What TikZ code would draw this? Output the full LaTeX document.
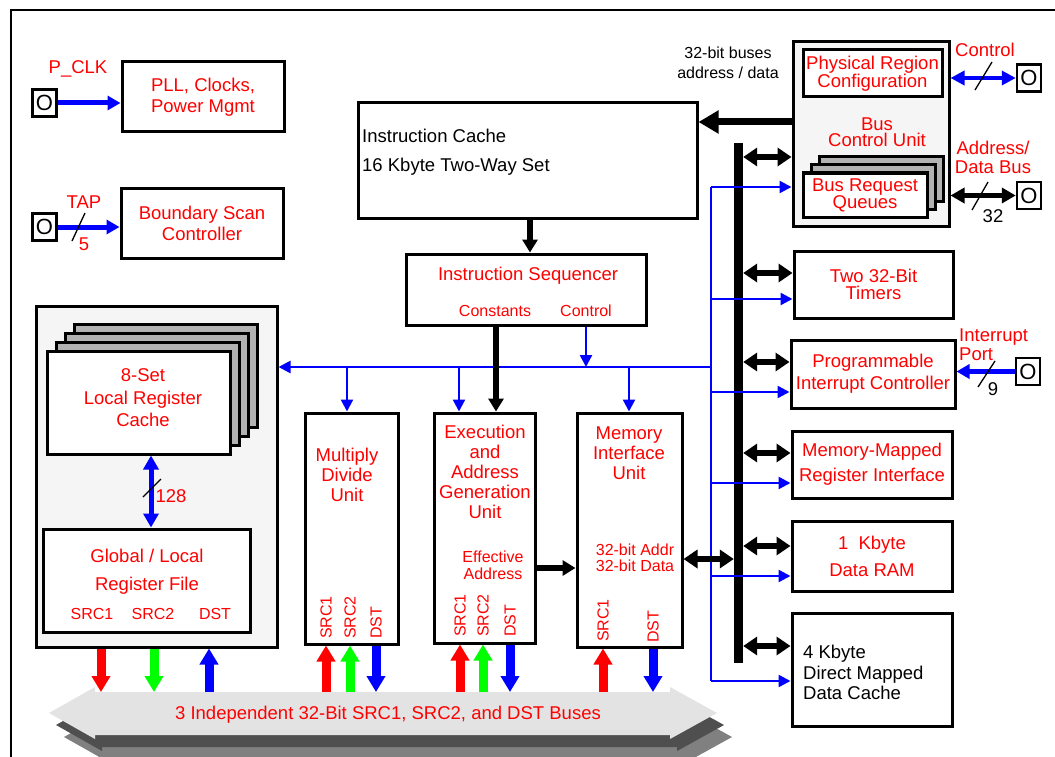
\documentclass[tikz,border=0pt]{standalone}
\usepackage{fontspec}
\setmainfont{Liberation Sans}
\usetikzlibrary{arrows.meta}

\begin{document}
\begin{tikzpicture}[x=1pt,y=-1pt,
box/.style={draw,line width=3pt,fill=white,inner sep=0pt},
rtxt/.style={text=red,align=center,inner sep=0pt,font=\fontsize{18.5}{21}\selectfont},
ktxt/.style={rtxt,text=black},
stxt/.style={text=red,align=center,inner sep=0pt,font=\fontsize{16}{17}\selectfont},
vtxt/.style={stxt,rotate=90,anchor=west},
ls/.style={font=\fontsize{18.5}{#1}\selectfont},
pin/.style={draw,line width=2.5pt,minimum width=24pt,minimum height=27pt,inner sep=0pt,font=\fontsize{22}{22}\selectfont},
slash/.style={line width=1.3pt},
bl/.style={blue,line width=2.5pt},
barr/.style={bl,-{Triangle[width=12pt,length=12pt]}},
pa/.style={blue,line width=5pt,-{Triangle[width=14pt,length=13pt]}},
bdbl/.style={blue,line width=5pt,{Triangle[width=15pt,length=14pt]}-{Triangle[width=15pt,length=14pt]}},
cdbl/.style={blue,line width=4pt,{Triangle[width=14pt,length=14pt]}-{Triangle[width=14pt,length=14pt]}},
adbl/.style={line width=5pt,{Triangle[width=15pt,length=14pt]}-{Triangle[width=15pt,length=14pt]}},
dbl/.style={line width=6pt,{Triangle[width=18pt,length=14pt]}-{Triangle[width=18pt,length=14pt]}},
tk/.style={line width=7pt,-{Triangle[width=22pt,length=20pt]}},
tkb/.style={line width=6pt,-{Triangle[width=15pt,length=13pt]}},
fat/.style={line width=9pt,-{Triangle[width=18pt,length=16pt]}},
]
\useasboundingbox (0,0) rectangle (1055,757);
\draw[line width=2pt] (11,757) -- (11,10) -- (1055,10);

\node[box,rtxt,minimum width=162pt,minimum height=70pt] (pll) at (203,97) {PLL, Clocks,\\Power Mgmt};
\node[box,rtxt,minimum width=162pt,minimum height=70pt] (bsc) at (202,223) {Boundary Scan\\Controller};
\node[pin] (pclk) at (44.5,103) {O};
\node[pin] (tap) at (44.5,227) {O};
\node[rtxt] (pclkl) at (78,69) {P\_CLK};
\node[rtxt] (tapl) at (84,202) {TAP};
\node[rtxt] (tapn) at (84,244) {5};
\draw[pa] (pclk.east) -- (pll.west |- pclk.east);
\draw[pa] (tap.east) -- (bsc.west |- tap.east);
\draw[slash] (72,241) -- (85,213);

\node[box,minimum width=339pt,minimum height=115pt] (ic) at (527.5,160.5) {};
\node[ktxt,anchor=west,align=left] (ict) at (362,152) {Instruction Cache\\[8pt]16 Kbyte Two-Way Set};
\node[box,minimum width=240pt,minimum height=71pt] (seq) at (526,289.5) {};
\node[rtxt] (seqt) at (528,276) {Instruction Sequencer};
\node[stxt] (seqa) at (495,311) {Constants};
\node[stxt] (seqb) at (586,311) {Control};

\node[box,fill=black!4,minimum width=241pt,minimum height=341pt] (rg) at (156.5,476.5) {};
\foreach \i in {3,2,1}
  \node[box,fill=black!30,minimum width=183pt,minimum height=103pt] (lrc\i) at ({138.5+9*\i},{402.5-8.7*\i}) {};
\node[box,minimum width=183pt,minimum height=103pt] (lrc) at (138.5,402.5) {};
\node[rtxt,ls=22.5] (lrct) at (143,398) {8-Set\\Local Register\\Cache};
\node[box,minimum width=207pt,minimum height=103pt] (grf) at (146.5,580.5) {};
\node[rtxt] (grft) at (147,572) {Global / Local\\[7pt]Register File};
\node[stxt] (g1) at (92,614) {SRC1};
\node[stxt] (g2) at (153,614) {SRC2};
\node[stxt] (g3) at (215,614) {DST};
\draw[bdbl] (lrc.south -| 151,0) -- (grf.north -| 151,0);
\draw[slash] (143,497) -- (161,479);
\node[rtxt] (lrcn) at (171,496) {128};

\node[box,minimum width=93pt,minimum height=231pt] (mul) at (351.5,528.5) {};
\node[rtxt,ls=20] (mult) at (347,475) {Multiply\\Divide\\Unit};
\node[box,minimum width=101pt,minimum height=230pt] (eag) at (484.5,528) {};
\node[rtxt,ls=20] (eagt) at (485,471.5) {Execution\\and\\Address\\Generation\\Unit};
\node[stxt] (eagb) at (493,565.5) {Effective\\Address};
\node[box,minimum width=105pt,minimum height=234pt] (miu) at (629.5,530) {};
\node[rtxt,ls=20] (miut) at (629,453) {Memory\\Interface\\Unit};
\node[stxt,font=\fontsize{16}{16}\selectfont] (miub) at (635,558) {32-bit Addr\\32-bit Data};
\node[vtxt] (m1) at (326,639) {SRC1};
\node[vtxt] (m2) at (350,639) {SRC2};
\node[vtxt] (m3) at (376,639) {DST};
\node[vtxt] (e1) at (460,637) {SRC1};
\node[vtxt] (e2) at (483,637) {SRC2};
\node[vtxt] (e3) at (510,637) {DST};
\node[vtxt] (u1) at (603,642) {SRC1};
\node[vtxt] (u3) at (653,643) {DST};

\node[box,fill=black!4,minimum width=156pt,minimum height=184pt] (bcu) at (871,134) {};
\node[box,rtxt,ls=18,minimum width=139pt,minimum height=47pt] (prc) at (872.5,73.5) {Physical Region\\Configuration};
\node[rtxt,ls=16.5] (bcut) at (877,132) {Bus\\Control Unit};
\foreach \i in {2,1}
  \node[box,fill=black!30,minimum width=124pt,minimum height=44pt] (brq\i) at ({865+8*\i},{195-8*\i}) {};
\node[box,rtxt,ls=17,minimum width=124pt,minimum height=44pt] (brq) at (865,195) {Bus Request\\Queues};
\node[ktxt,font=\fontsize{16}{20}\selectfont] (busw) at (728,63) {32-bit buses\\address / data};

\node[pin] (cpin) at (1029,78) {O};
\node[rtxt] (cpinl) at (985,50) {Control};
\draw[cdbl] (bcu.east |- cpin.west) -- (cpin.west);
\draw[slash] (975,90) -- (992,62);
\node[pin] (apin) at (1029,195.5) {O};
\node[rtxt,ls=19] (apinl) at (993,157.5) {Address/\\Data Bus};
\draw[adbl] (bcu.east |- apin.west) -- (apin.west);
\draw[slash] (972,210) -- (988,182);
\node[ktxt] (apinn) at (993,216) {32};

\node[box,rtxt,ls=17,minimum width=159pt,minimum height=67pt] (tim) at (873.5,284.5) {Two 32-Bit\\Timers};
\node[box,rtxt,ls=22,minimum width=164pt,minimum height=68pt] (pic) at (873,374) {Programmable\\Interrupt Controller};
\node[box,rtxt,ls=25,minimum width=160pt,minimum height=67pt] (mmr) at (872,464.5) {Memory-Mapped\\Register Interface};
\node[box,rtxt,ls=27,minimum width=160pt,minimum height=70pt] (ram) at (872,556) {1\ \ Kbyte\\Data RAM};
\node[box,minimum width=160pt,minimum height=113pt] (dc) at (872,669.5) {};
\node[ktxt,ls=20.5,anchor=west,align=left] (dct) at (803,672.5) {4 Kbyte\\Direct Mapped\\Data Cache};

\node[pin] (ipin) at (1028,371.5) {O};
\node[rtxt,ls=19,anchor=west,align=left] (ipinl) at (959,344.5) {Interrupt\\Port};
\draw[pa] (ipin.west) -- (pic.east |- ipin.west);
\draw[slash] (978,387) -- (995,361);
\node[ktxt] (ipinn) at (993,389) {9};

\node[fill=black,minimum width=9pt,minimum height=520pt,inner sep=0pt] (vb) at (738.5,403) {};
\coordinate (bt) at (711,187);
\coordinate (bb) at (711,681);
\coordinate (bj) at (711,367);
\draw[bl] (bt) -- (bb);
\foreach \n/\y in {bcu/187,tim/299,pic/392,mmr/483,ram/576,dc/681}
  \draw[barr] (bt |- 0,\y) -- (\n.west |- 0,\y);
\foreach \n/\y in {bcu/157,tim/273,pic/362,mmr/453,ram/546,dc/646}
  \draw[dbl] (vb.east |- 0,\y) -- (\n.west |- 0,\y);

\draw[barr] (bj) -- (rg.east |- bj);
\foreach \x/\n in {347/mul,459/eag,629/miu}
  \draw[barr] (\x,0 |- bj) -- (\n.north -| \x,0);
\draw[barr] (seq.south -| 586,0) -- (586,0 |- bj);

\draw[tk] (bcu.west |- 0,122) -- (ic.east |- 0,122);
\draw[tkb] (ic.south -| 530,0) -- (seq.north -| 530,0);
\draw[tkb] (seq.south -| 496,0) -- (eag.north -| 496,0);
\draw[tkb] (eag.east |- 0,568) -- (miu.west |- 0,568);
\draw[dbl] (miu.east |- 0,559) -- (vb.west |- 0,559);

\foreach \dx/\dy/\c in {15/24/black!50,7/12/black!69,0/0/black!11}
  \fill[\c,shift={(\dx,\dy)}] (49,713) -- (95,687) -- (95,692) -- (670,692) -- (670,687) -- (717,713)
    -- (670,739) -- (670,735) -- (95,735) -- (95,739) -- cycle;
\coordinate (bus) at (383,692);
\node[rtxt] (busl) at (388,715) {3 Independent 32-Bit SRC1, SRC2, and DST Buses};

\draw[fat,red] (rg.south -| 101,0) -- (101,0 |- bus);
\draw[fat,green] (rg.south -| 154,0) -- (154,0 |- bus);
\draw[fat,blue] (209,0 |- bus) -- (rg.south -| 209,0);
\foreach \x/\c/\n in {326/red/mul,350/green/mul,460/red/eag,483/green/eag,603/red/miu}
  \draw[fat,\c] (\x,0 |- bus) -- (\n.south -| \x,0);
\foreach \x/\n in {376/mul,510/eag,653/miu}
  \draw[fat,blue] (\n.south -| \x,0) -- (\x,0 |- bus);
\end{tikzpicture}
\end{document}
